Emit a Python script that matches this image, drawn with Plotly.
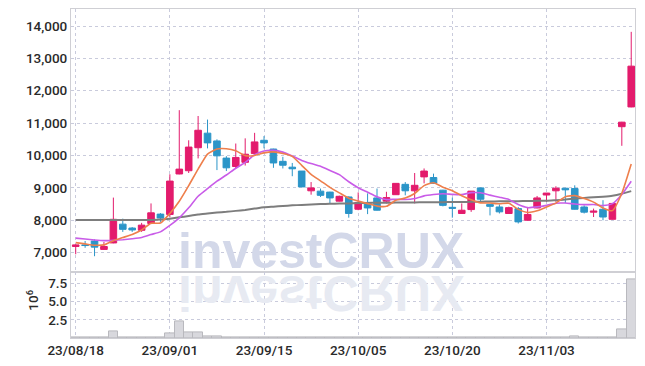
import plotly.graph_objects as go
from plotly.subplots import make_subplots

dates = ["23/08/18", "23/08/21", "23/08/22", "23/08/23", "23/08/24", "23/08/25",
         "23/08/28", "23/08/29", "23/08/30", "23/08/31", "23/09/01",
         "23/09/04", "23/09/05", "23/09/06", "23/09/07", "23/09/08",
         "23/09/11", "23/09/12", "23/09/13", "23/09/14", "23/09/15",
         "23/09/18", "23/09/19", "23/09/20", "23/09/21", "23/09/22",
         "23/09/25", "23/09/26", "23/09/27", "23/10/04", "23/10/05",
         "23/10/06", "23/10/10", "23/10/11", "23/10/12", "23/10/13",
         "23/10/16", "23/10/17", "23/10/18", "23/10/19", "23/10/20",
         "23/10/23", "23/10/24", "23/10/25", "23/10/26", "23/10/27",
         "23/10/30", "23/10/31", "23/11/01", "23/11/02", "23/11/03",
         "23/11/06", "23/11/07", "23/11/08", "23/11/09", "23/11/10",
         "23/11/13", "23/11/14", "23/11/15", "23/11/16"]

open_p = [7190, 7240, 7360, 7100, 7300, 7880, 7760, 7690, 7900, 8190,
          8180, 9430, 9530, 10240, 10690, 10450, 9920, 9660, 9790, 10060,
          10470, 10200, 9820, 9640, 9520, 8910, 8900, 8870, 8590, 8720,
          8340, 8550, 8690, 8590, 8790, 9110, 8910, 9340, 9320, 8930,
          8400, 8210, 8330, 9000, 8490, 8410, 8210, 8360, 8000, 8380,
          8780, 8910, 8990, 8980, 8410, 8250, 8340, 8030, 10890, 11500]
high_p = [7260, 7360, 7410, 7330, 8700, 8050, 7790, 7920, 8520, 8220,
          9420, 11400, 10470, 11220, 11110, 10500, 9980, 10370, 10530, 10700,
          10600, 10210, 9960, 9770, 9520, 9180, 8980, 8880, 8760, 8740,
          8860, 8830, 8980, 8880, 9140, 9180, 9460, 9600, 9440, 8940,
          8700, 8520, 8900, 9010, 8500, 8490, 8420, 8410, 8380, 8750,
          8840, 9050, 9000, 9080, 8460, 8360, 8620, 8520, 11040, 13820]
low_p = [6950, 7150, 6890, 7090, 7290, 7640, 7640, 7640, 7880, 7950,
         8090, 9420, 9460, 9910, 10220, 9550, 9520, 9600, 9690, 10000,
         10220, 9620, 9600, 9360, 9030, 8790, 8720, 8530, 8580, 8080,
         8310, 8190, 8300, 8520, 8790, 8770, 8520, 9140, 9120, 8430,
         8080, 8200, 8260, 8570, 8150, 8210, 8200, 7900, 7990, 8370,
         8570, 8570, 8530, 8330, 8210, 8100, 8000, 8020, 10300, 11490]
close_p = [7240, 7220, 7170, 7190, 8030, 7720, 7700, 7850, 8230, 8070,
           9210, 9580, 10260, 10780, 10390, 9990, 9620, 9940, 10040, 10420,
           10390, 9770, 9700, 9590, 9030, 9000, 8770, 8690, 8740, 8210,
           8550, 8380, 8310, 8700, 9140, 8910, 9080, 9520, 9140, 8460,
           8370, 8310, 8900, 8650, 8430, 8260, 8390, 7950, 8180, 8690,
           8840, 8990, 8940, 8340, 8250, 8280, 8100, 8520, 11030, 12760]

ma_short = [7310, 7270, 7230, 7240, 7370, 7466, 7562, 7698, 7906, 7914,
            8212, 8588, 9070, 9580, 10044, 10200, 10208, 10144, 9996, 10002,
            10082, 10112, 10064, 9974, 9696, 9418, 9218, 9016, 8846, 8682,
            8592, 8514, 8438, 8430, 8616, 8688, 8828, 9070, 9158, 9022,
            8914, 8760, 8636, 8538, 8532, 8510, 8526, 8336, 8242, 8294,
            8410, 8530, 8728, 8760, 8672, 8560, 8382, 8298, 8836, 9738]
ma_mid = [7450, 7420, 7390, 7370, 7380, 7400, 7430, 7470, 7560, 7642,
          7839, 8075, 8384, 8743, 8979, 9206, 9398, 9607, 9788, 10023,
          10141, 10160, 10104, 9985, 9849, 9750, 9665, 9540, 9410, 9189,
          9005, 8866, 8727, 8638, 8649, 8640, 8671, 8754, 8794, 8819,
          8801, 8794, 8853, 8848, 8777, 8712, 8643, 8486, 8390, 8413,
          8460, 8528, 8532, 8501, 8483, 8485, 8456, 8513, 8798, 9205]
ma_long = [8010, 8010, 8010, 8010, 8010, 8010, 8010, 8010, 8010, 8020,
           8050, 8090, 8130, 8180, 8210, 8240, 8260, 8290, 8320, 8360,
           8400, 8420, 8440, 8460, 8475, 8490, 8500, 8510, 8515, 8520,
           8530, 8535, 8540, 8540, 8545, 8545, 8550, 8555, 8555, 8560,
           8565, 8565, 8570, 8575, 8580, 8585, 8590, 8590, 8595, 8600,
           8600, 8620, 8640, 8670, 8690, 8710, 8730, 8760, 8820, 8900]

volume_m = [0.04, 0.03, 0.05, 0.03, 0.86, 0.10, 0.04, 0.03, 0.08, 0.05,
            0.64, 2.23, 0.73, 0.73, 0.27, 0.27, 0.14, 0.12, 0.12, 0.12,
            0.05, 0.10, 0.04, 0.03, 0.10, 0.04, 0.04, 0.04, 0.04, 0.10,
            0.03, 0.10, 0.04, 0.04, 0.04, 0.04, 0.10, 0.10, 0.10, 0.10,
            0.04, 0.03, 0.04, 0.03, 0.04, 0.03, 0.04, 0.03, 0.04, 0.03,
            0.04, 0.03, 0.10, 0.27, 0.04, 0.04, 0.04, 0.10, 1.14, 8.05]

x_tick_labels = ["23/08/18", "23/09/01", "23/09/15", "23/10/05", "23/10/20", "23/11/03"]
price_ticks = [7000, 8000, 9000, 10000, 11000, 12000, 13000, 14000]
vol_ticks = [2.5, 5.0, 7.5]
vol_tick_text = ["2.5", "5.0", "7.5"]

RED = "#e31b6c"
BLUE = "#2b95c8"
ORANGE = "#ee7f4c"
PURPLE = "#c95ce8"
GRAY = "#7d7d7d"
GRID = "#c9cbdc"
FRAME = "#cfcfd4"
FONT = "Roboto"
TICKFONT = dict(family=FONT, size=13.5, color="#2a2a2a", weight=500)

fig = make_subplots(rows=2, cols=1, shared_xaxes=True, vertical_spacing=0,
                    row_heights=[0.8006, 0.1994])

fig.add_trace(go.Candlestick(
    x=dates, open=open_p, high=high_p, low=low_p, close=close_p,
    increasing=dict(line=dict(color=RED, width=1), fillcolor=RED),
    decreasing=dict(line=dict(color=BLUE, width=1), fillcolor=BLUE),
    showlegend=False, hoverinfo="skip"), row=1, col=1)

for ys, col, w in [(ma_long, GRAY, 2), (ma_mid, PURPLE, 1.6), (ma_short, ORANGE, 1.6)]:
    fig.add_trace(go.Scatter(x=dates, y=ys, mode="lines",
                             line=dict(color=col, width=w, shape="spline", smoothing=0.5),
                             showlegend=False, hoverinfo="skip"), row=1, col=1)

fig.add_trace(go.Bar(x=dates, y=volume_m,
                     marker=dict(color="#d8d8dd", line=dict(color="#b9b9be", width=1)),
                     showlegend=False, hoverinfo="skip"), row=2, col=1)

axis_common = dict(showgrid=True, gridcolor=GRID, griddash="dot", gridwidth=1,
                   showline=True, linecolor=FRAME, linewidth=1, mirror=True,
                   ticks="", zeroline=False)

fig.update_xaxes(type="category", range=[-0.5, 59.4], tickvals=x_tick_labels,
                 ticktext=x_tick_labels, **axis_common)
fig.update_xaxes(showticklabels=False, rangeslider=dict(visible=False), row=1, col=1)
fig.update_xaxes(tickfont=TICKFONT, row=2, col=1)

fig.update_yaxes(range=[6390, 14525], tickvals=price_ticks, tickformat=",",
                 tickfont=TICKFONT, row=1, col=1, **axis_common)
fig.update_yaxes(range=[0, 9.0], tickvals=vol_ticks, ticktext=vol_tick_text,
                 tickfont=TICKFONT, row=2, col=1, **axis_common)

fig.add_annotation(text="investCRUX", xref="paper", yref="paper",
                   x=0.4424, y=0.2642, xanchor="center", yanchor="middle",
                   showarrow=False,
                   font=dict(family="Liberation Sans", size=50, color="#d3d8e9", weight="bold"))
fig.add_annotation(text="investCRUX", xref="paper", yref="paper",
                   x=0.4424, y=0.1376, xanchor="center", yanchor="middle",
                   showarrow=False,
                   font=dict(family="Liberation Sans", size=50, color="#e7eaf2", weight="bold"))
fig.add_annotation(text="10<sup>6</sup>", xref="paper", yref="paper",
                   x=-0.067, y=0.114, xanchor="center", yanchor="middle",
                   textangle=-90, showarrow=False,
                   font=dict(family=FONT, size=13.5, color="#2a2a2a", weight=500))

fig.update_layout(width=645, height=366,
                  margin=dict(l=71, r=10, t=9, b=28, autoexpand=False),
                  paper_bgcolor="white", plot_bgcolor="white", bargap=0,
                  boxgap=0.3, boxgroupgap=0, showlegend=False, hovermode=False)

post = """
var s=document.createElement('style');
s.textContent='html,body{margin:0;padding:0;overflow:hidden;} g.annotation[data-index="1"] text{transform:scaleY(-1);transform-box:fill-box;transform-origin:center;}';
document.head.appendChild(s);
"""
fig.write_html("out.html", post_script=post, config={"displayModeBar": False})
